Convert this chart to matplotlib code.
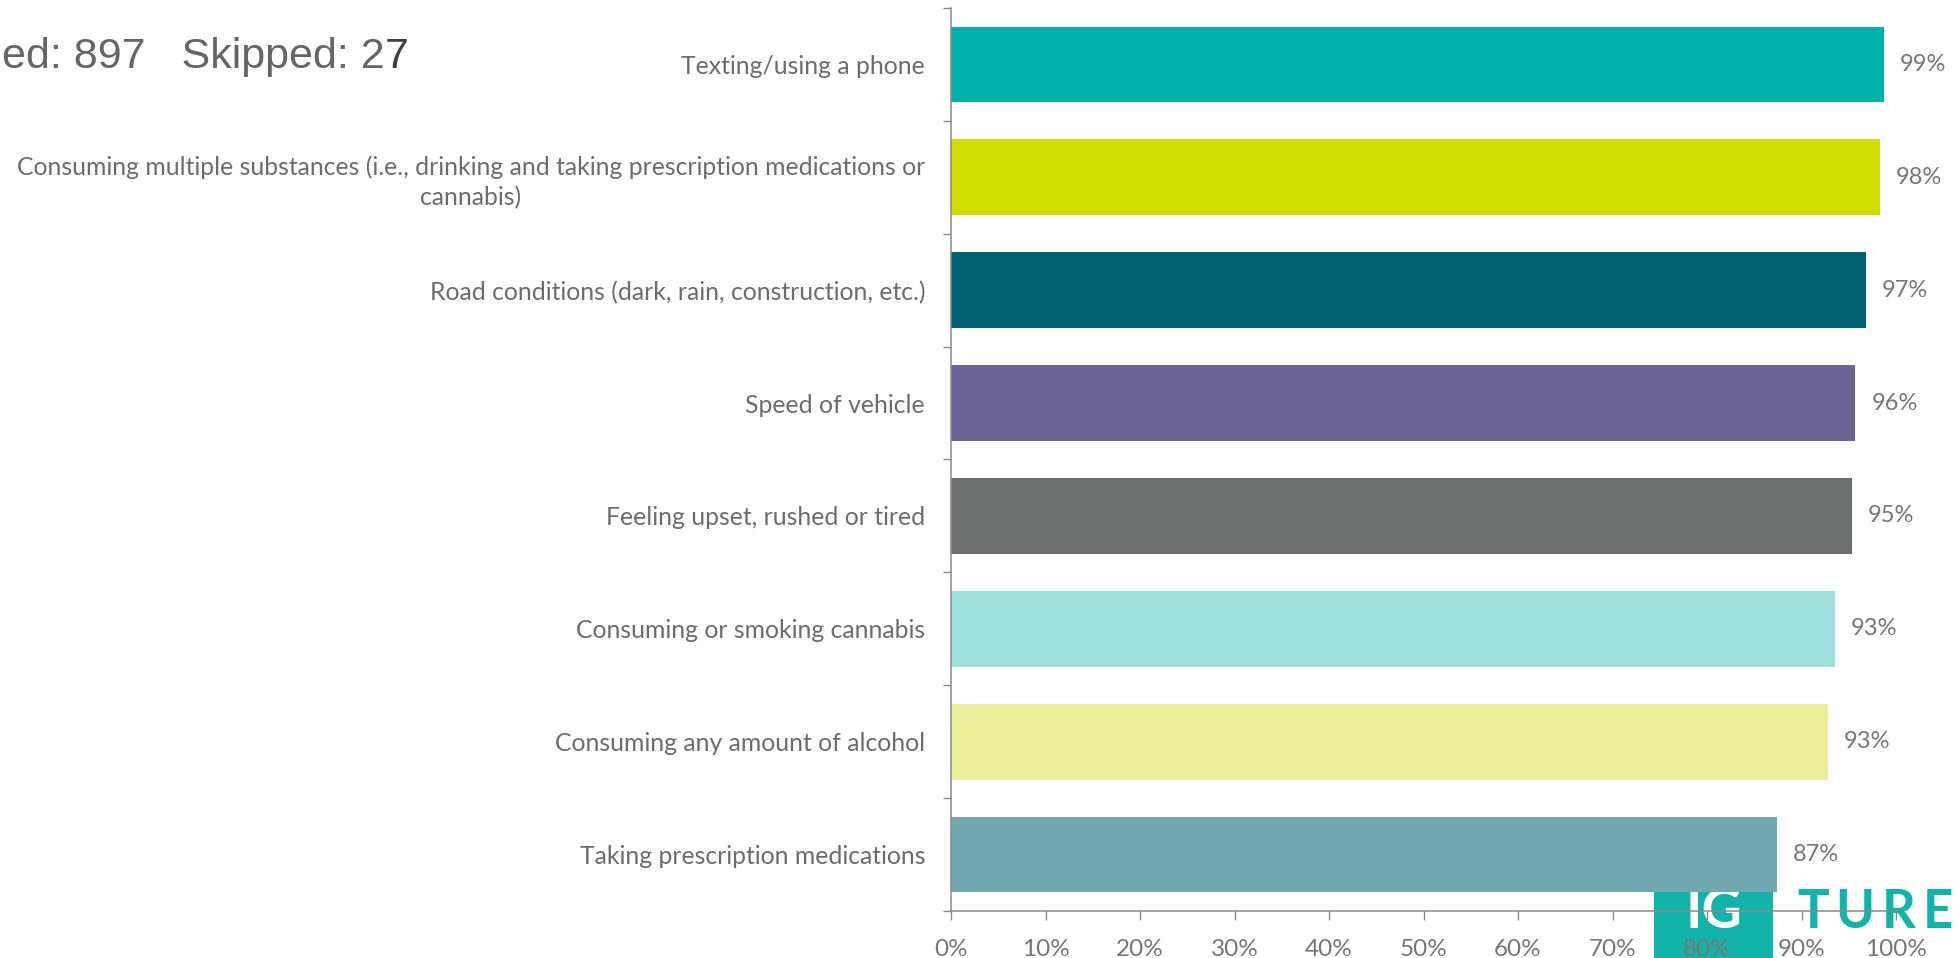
import matplotlib
matplotlib.use("Agg")
import matplotlib.pyplot as plt
from matplotlib.patches import FancyBboxPatch
from matplotlib.ticker import FixedLocator
from matplotlib.transforms import offset_copy

categories = [
    "Texting/using a phone",
    "Consuming multiple substances (i.e., drinking and taking prescription medications or\ncannabis)",
    "Road conditions (dark, rain, construction, etc.)",
    "Speed of vehicle",
    "Feeling upset, rushed or tired",
    "Consuming or smoking cannabis",
    "Consuming any amount of alcohol",
    "Taking prescription medications",
]
values = [98.7, 98.3, 96.8, 95.7, 95.3, 93.5, 92.8, 87.4]
value_labels = ["99%", "98%", "97%", "96%", "95%", "93%", "93%", "87%"]
colors = ["#00B2AA", "#D0DE00", "#006070", "#6B6394", "#6F7170",
          "#9DE0DC", "#EBEF9A", "#72A8B2"]
xticks = [0, 10, 20, 30, 40, 50, 60, 70, 80, 90, 100]
xtick_labels = [f"{t}%" for t in xticks]

W, H = 1954, 958
fig = plt.figure(figsize=(W / 100, H / 100), dpi=100)
fig.patch.set_facecolor("white")
renderer = fig.canvas.get_renderer()

# Logo decoration (behind the chart)
teal = "#12B3A8"
box = FancyBboxPatch((1654 / W, -0.05), 119 / W, (958 - 840) / H + 0.05,
                     boxstyle="round,pad=0,rounding_size=0.012",
                     transform=fig.transFigure, facecolor=teal,
                     edgecolor="none", zorder=0)
fig.patches.append(box)
fig.text(1686 / W, 1 - 928 / H, "IG", color="white", fontsize=40,
         family="Lato", weight="bold", ha="left", va="baseline", zorder=1)
xpos = 1797
for ch in "TURE":
    t = fig.text(xpos / W, 1 - 928 / H, ch, color=teal, fontsize=38,
                 family="Lato", weight="bold", ha="left", va="baseline", zorder=1)
    xpos += t.get_window_extent(renderer).width + 7

ax = fig.add_axes([951 / W, 1 - 911 / H, 945 / W, 903 / H])
ax.set_facecolor("none")
ax.set_zorder(2)

y = list(range(len(categories)))
ax.barh(y, values, height=0.67, color=colors, zorder=3)

label_color = "#767676"
for yi, v, lab in zip(y, values, value_labels):
    ax.annotate(lab, xy=(v, yi), xytext=(16, 0), textcoords="offset pixels",
                ha="left", va="center", fontsize=17, family="Lato",
                color=label_color)

ax.set_xlim(0, 100)
ax.set_ylim(len(categories) - 0.5, -0.5)
ax.set_xticks(xticks)
ax.set_xticklabels(xtick_labels, family="Lato", fontsize=17.5, color=label_color)
ax.set_yticks(y)
ax.set_yticklabels(categories, family="Lato", fontsize=17.8, color="#6c6c6c",
                   multialignment="center", linespacing=1.35)
ax.yaxis.set_minor_locator(FixedLocator([i - 0.5 for i in range(len(categories) + 1)]))
ax.tick_params(axis="y", which="major", length=0, pad=18.7)
ax.tick_params(axis="y", which="minor", length=6, width=1, color="#8a8a8a")
ax.tick_params(axis="x", which="major", length=6.5, width=1, color="#8a8a8a", pad=13.5)

for s in ["top", "right"]:
    ax.spines[s].set_visible(False)
for s in ["left", "bottom"]:
    ax.spines[s].set_color("#8a8a8a")
    ax.spines[s].set_linewidth(1.1)
    ax.spines[s].set_zorder(4)

# Header fragment
t1 = fig.text(2 / W, 1 - 68 / H, "ed: 897   Skipped: 2", fontsize=31,
              family="Liberation Sans", color="#666666", ha="left", va="baseline")
ax.annotate("7", xy=(1, 0), xycoords=t1, ha="left", va="bottom",
            fontsize=31, family="Liberation Sans", color="#404040",
            annotation_clip=False)

fig.savefig("out.png", dpi=100, facecolor="white")
